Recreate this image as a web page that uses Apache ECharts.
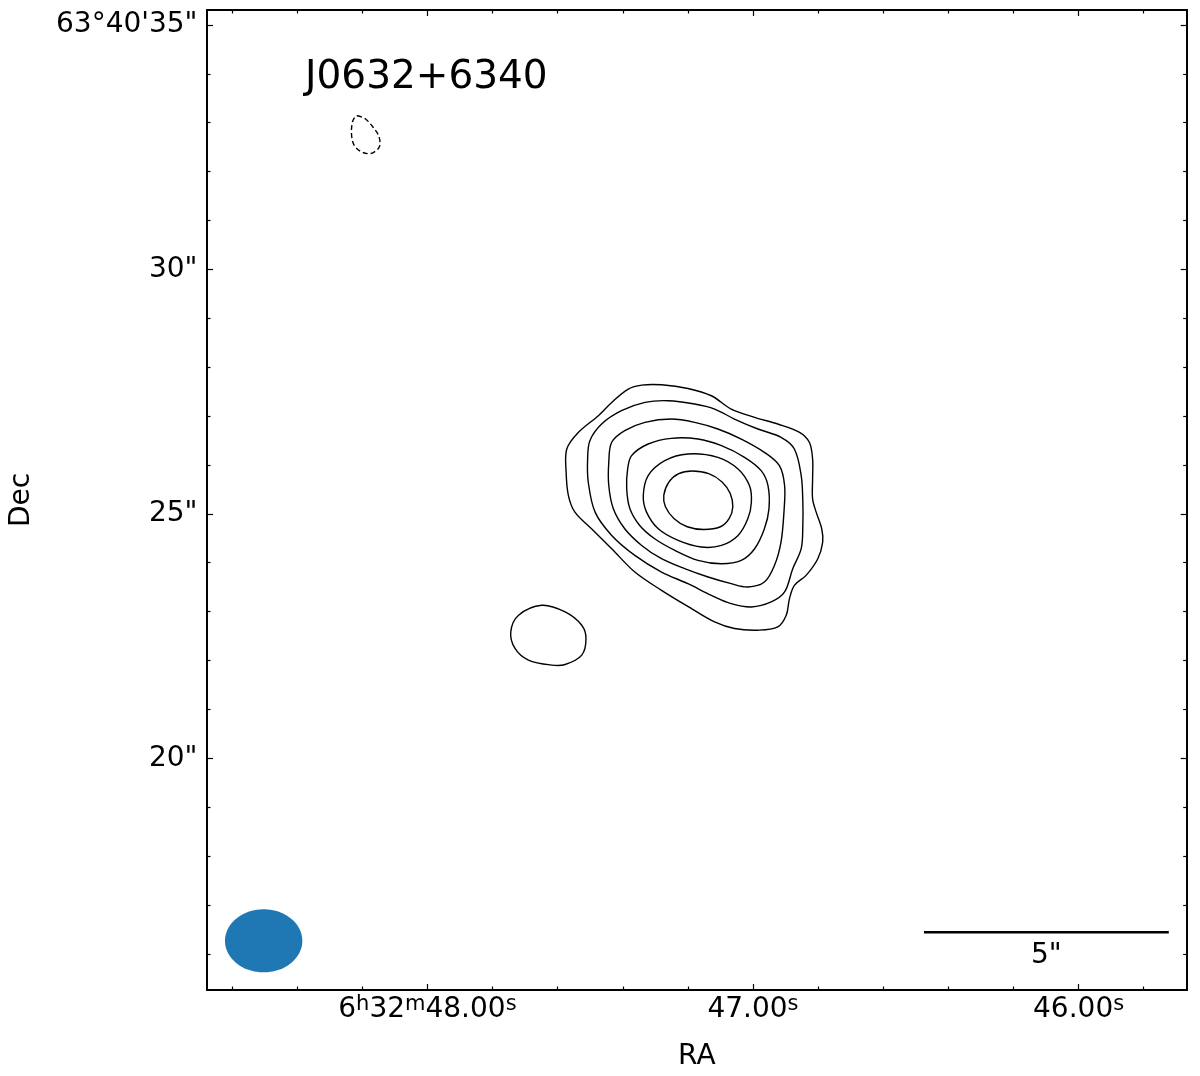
<!DOCTYPE html>
<html>
<head>
<meta charset="utf-8">
<title>J0632+6340</title>
<script src="https://cdn.jsdelivr.net/npm/echarts@6.0.0/dist/echarts.min.js"></script>
<style>
  html, body { margin: 0; padding: 0; background: #fff; }
  #chart { width: 1200px; height: 1076px; }
</style>
</head>
<body>
<div id="chart"></div>
<script>
// axis ranges: RA in seconds of 6h32m, Dec in arcsec of +63d40'
const raRange = [45.668, 48.677]
const decRange = [15.259, 35.306]

const raMajor = [46, 47, 48]
const raMinor = [45.8, 46.2, 46.4, 46.6, 46.8, 47.2, 47.4, 47.6, 47.8, 48.2, 48.4, 48.6]
const decMajor = [20, 25, 30, 35]
const decMinor = [16, 17, 18, 19, 21, 22, 23, 24, 26, 27, 28, 29, 31, 32, 33, 34]

// contour levels, outermost first  [RA s, Dec "]
const contour1 = [
  [47.574, 25.850], [47.572, 26.326], [47.536, 26.667], [47.475, 27.007], [47.434, 27.279],
  [47.383, 27.551], [47.342, 27.633], [47.281, 27.639], [47.200, 27.564], [47.128, 27.415],
  [47.067, 27.143], [46.995, 26.973], [46.924, 26.837], [46.857, 26.667], [46.827, 26.463],
  [46.817, 26.122], [46.817, 25.714], [46.817, 25.306], [46.806, 25.034], [46.789, 24.694],
  [46.786, 24.422], [46.801, 24.081], [46.837, 23.741], [46.873, 23.537], [46.888, 23.265],
  [46.898, 22.925], [46.924, 22.687], [46.985, 22.619], [47.057, 22.653], [47.118, 22.789],
  [47.189, 23.061], [47.281, 23.435], [47.363, 23.809], [47.434, 24.286], [47.496, 24.694],
  [47.547, 25.034], [47.567, 25.374]
]
const contour2 = [
  [47.508, 26.122], [47.501, 26.496], [47.465, 26.837], [47.404, 27.109], [47.332, 27.279],
  [47.261, 27.313], [47.179, 27.245], [47.118, 27.143], [47.057, 26.939], [46.985, 26.735],
  [46.914, 26.564], [46.873, 26.326], [46.852, 25.782], [46.847, 25.238], [46.847, 24.762],
  [46.852, 24.286], [46.878, 23.878], [46.903, 23.401], [46.944, 23.197], [47.005, 23.095],
  [47.067, 23.163], [47.128, 23.333], [47.200, 23.571], [47.281, 23.809], [47.363, 24.150],
  [47.434, 24.558], [47.485, 25.034], [47.506, 25.646]
]
const contour3 = [
  [47.443, 26.054], [47.434, 26.463], [47.394, 26.701], [47.332, 26.871], [47.251, 26.939],
  [47.179, 26.871], [47.108, 26.735], [47.036, 26.530], [46.965, 26.258], [46.919, 25.986],
  [46.903, 25.578], [46.905, 25.034], [46.914, 24.422], [46.934, 23.946], [46.965, 23.605],
  [47.016, 23.503], [47.067, 23.571], [47.138, 23.707], [47.210, 23.878], [47.281, 24.081],
  [47.342, 24.353], [47.394, 24.694], [47.429, 25.102], [47.443, 25.578]
]
const contour4 = [
  [47.385, 25.918], [47.373, 26.190], [47.322, 26.428], [47.251, 26.544], [47.169, 26.530],
  [47.097, 26.394], [47.026, 26.156], [46.975, 25.884], [46.954, 25.578], [46.951, 25.102],
  [46.965, 24.694], [46.995, 24.286], [47.036, 24.048], [47.097, 23.979], [47.169, 24.048],
  [47.240, 24.252], [47.302, 24.490], [47.348, 24.762], [47.378, 25.102], [47.388, 25.510]
]
const contour5 = [
  [47.322, 25.782], [47.271, 26.088], [47.200, 26.224], [47.108, 26.156], [47.046, 25.918],
  [47.011, 25.578], [47.005, 25.238], [47.016, 24.898], [47.046, 24.558], [47.097, 24.353],
  [47.159, 24.320], [47.230, 24.456], [47.291, 24.694], [47.327, 25.034], [47.337, 25.374]
]
const contour6 = [
  [47.187, 25.877], [47.136, 25.823], [47.095, 25.653], [47.070, 25.415], [47.062, 25.143],
  [47.073, 24.905], [47.100, 24.735], [47.151, 24.680], [47.202, 24.735], [47.243, 24.905],
  [47.269, 25.143], [47.274, 25.381], [47.258, 25.653], [47.228, 25.823]
]
// separate low-level blob to the south-east
const blob = [
  [47.649, 23.129], [47.577, 22.993], [47.526, 22.721], [47.513, 22.449], [47.526, 22.109],
  [47.577, 21.918], [47.618, 21.905], [47.690, 22.007], [47.731, 22.245], [47.744, 22.585],
  [47.720, 22.925]
]
// negative contour (dashed)
const negContour = [
  [48.216, 33.143], [48.190, 33.075], [48.165, 32.891], [48.149, 32.721], [48.147, 32.517],
  [48.165, 32.394], [48.182, 32.367], [48.206, 32.415], [48.226, 32.551], [48.233, 32.755],
  [48.231, 32.993], [48.223, 33.116]
]

// restoring beam (arcsec) and its centre
const beamCenter = [48.503, 16.265]
const beamMajor = 1.58
const beamMinor = 1.29
const decDeg = 63 + 40 / 60 + 25 / 3600

// scale bar
const scaleBarRA = [46.475, 45.723]
const scaleBarDec = 16.44
const scaleBarLabel = '5"'

const font = 'DejaVu Sans'

const chart = echarts.init(document.getElementById('chart'))

function raLabel (v) {
  const s = v.toFixed(2)
  if (Math.abs(v - 48) < 1e-6) return '{n|6}{s|h}{n|32}{s|m}{n|' + s + '}{s|s}'
  return '{n|' + s + '}{s|s}'
}

function decLabel (v) {
  if (v === 35) return '63°40\'35"'
  return v + '"'
}

function xAxis (pos, ticks, len, withLabels) {
  return {
    type: 'value',
    position: pos,
    inverse: true,
    min: raRange[0],
    max: raRange[1],
    axisLine: { show: true, onZero: false, lineStyle: { color: '#000', width: 1.8 } },
    axisTick: { show: true, inside: true, length: len, customValues: ticks, lineStyle: { color: '#000', width: 1.2 } },
    axisLabel: withLabels ? {
      show: true,
      customValues: ticks,
      margin: 4,
      formatter: raLabel,
      rich: {
        n: { fontFamily: font, fontSize: 28, color: '#000', lineHeight: 32 },
        s: { fontFamily: font, fontSize: 21, color: '#000', lineHeight: 15, verticalAlign: 'top' }
      }
    } : { show: false },
    splitLine: { show: false }
  }
}

function yAxis (pos, ticks, len, withLabels) {
  return {
    type: 'value',
    position: pos,
    min: decRange[0],
    max: decRange[1],
    axisLine: { show: true, onZero: false, lineStyle: { color: '#000', width: 1.8 } },
    axisTick: { show: true, inside: true, length: len, customValues: ticks, lineStyle: { color: '#000', width: 1.2 } },
    axisLabel: withLabels ? {
      show: true,
      customValues: ticks,
      margin: 9.5,
      formatter: decLabel,
      fontFamily: font,
      fontSize: 28,
      color: '#000'
    } : { show: false },
    splitLine: { show: false }
  }
}

const xAxes = [
  xAxis('bottom', raMajor, 6, true),
  xAxis('bottom', raMinor, 3.5, false),
  xAxis('top', raMajor, 6, false),
  xAxis('top', raMinor, 3.5, false)
]
Object.assign(xAxes[0], {
  name: 'RA', nameLocation: 'middle', nameGap: 53,
  nameTextStyle: { fontFamily: font, fontSize: 28, color: '#000' }
})

const yAxes = [
  yAxis('left', decMajor, 6, true),
  yAxis('left', decMinor, 3.5, false),
  yAxis('right', decMajor, 6, false),
  yAxis('right', decMinor, 3.5, false)
]
Object.assign(yAxes[0], {
  name: 'Dec', nameLocation: 'middle', nameGap: 171,
  nameTextStyle: { fontFamily: font, fontSize: 28, color: '#000' }
})

// each contour is a closed smoothed ring drawn through the cartesian scales
function contourSeries (pts, dashed) {
  return {
    type: 'custom',
    coordinateSystem: 'cartesian2d',
    data: pts,
    silent: true,
    renderItem: function (params, api) {
      if (params.dataIndex !== 0) return null
      return {
        type: 'polygon',
        shape: { points: pts.map((p) => api.coord(p)), smooth: 0.34 },
        style: { fill: null, stroke: '#000', lineWidth: 1.4, lineDash: dashed ? [5, 3] : null }
      }
    }
  }
}

const series = [contour1, contour2, contour3, contour4, contour5, contour6, blob]
  .map((c) => contourSeries(c, false))
series.push(contourSeries(negContour, true))

// beam ellipse
series.push({
  type: 'custom',
  coordinateSystem: 'cartesian2d',
  data: [beamCenter],
  silent: true,
  renderItem: function (params, api) {
    const ra0 = api.value(0)
    const dec0 = api.value(1)
    const secPerArcsec = 1 / (15 * Math.cos(decDeg * Math.PI / 180))
    const points = []
    for (let i = 0; i < 90; i++) {
      const t = i / 90 * Math.PI * 2
      points.push(api.coord([
        ra0 + beamMajor / 2 * Math.cos(t) * secPerArcsec,
        dec0 + beamMinor / 2 * Math.sin(t)
      ]))
    }
    return { type: 'polygon', shape: { points: points }, style: { fill: '#1f77b4' } }
  }
})

// scale bar with its label
series.push({
  type: 'custom',
  coordinateSystem: 'cartesian2d',
  data: [[scaleBarRA[0], scaleBarDec]],
  silent: true,
  renderItem: function (params, api) {
    const a = api.coord([scaleBarRA[0], scaleBarDec])
    const b = api.coord([scaleBarRA[1], scaleBarDec])
    return {
      type: 'group',
      children: [
        { type: 'line', shape: { x1: a[0], y1: a[1], x2: b[0], y2: b[1] }, style: { stroke: '#000', lineWidth: 2.5 } },
        {
          type: 'text',
          x: (a[0] + b[0]) / 2,
          y: a[1] + 9,
          style: { text: scaleBarLabel, fill: '#000', font: '28px "DejaVu Sans"', align: 'center', verticalAlign: 'top' }
        }
      ]
    }
  }
})

chart.setOption({
  animation: false,
  backgroundColor: '#fff',
  title: {
    text: 'J0632+6340',
    left: 300,
    top: 53,
    textStyle: { fontFamily: font, fontSize: 39, fontWeight: 'normal', color: '#000' }
  },
  grid: { left: 204.5, right: 13.3, top: 10, bottom: 83.7, containLabel: false },
  xAxis: xAxes,
  yAxis: yAxes,
  series: series
})
</script>
</body>
</html>
